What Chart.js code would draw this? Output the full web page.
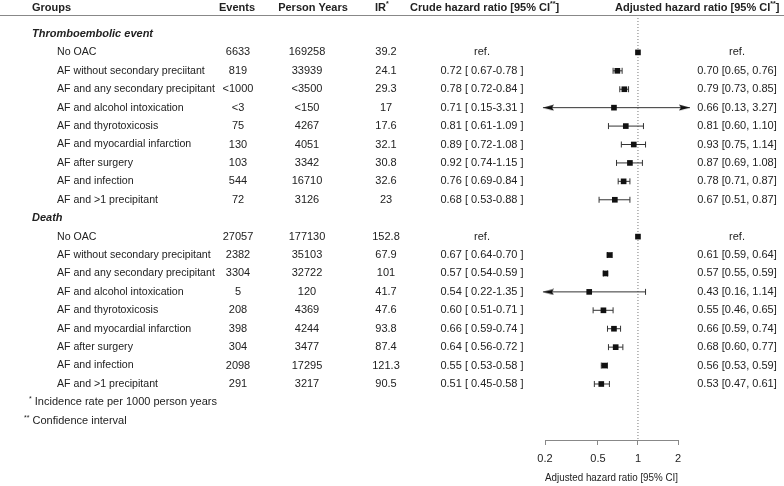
<!DOCTYPE html>
<html>
<head>
<meta charset="utf-8">
<script src="https://cdn.jsdelivr.net/npm/chart.js@4.4.0/dist/chart.umd.min.js"></script>
<style>
	html, body { margin: 0; padding: 0; background: #fff; }
	canvas { display: block; }
</style>
</head>
<body>
<canvas id="forest-chart" width="784" height="486"></canvas>
<script>
// ---- table data ----
var sections = ['Thromboembolic event', 'Death'];

var thromboGroups = ['No OAC', 'AF without secondary preciitant', 'AF and any secondary precipitant', 'AF and alcohol intoxication',
	'AF and thyrotoxicosis', 'AF and myocardial infarction', 'AF after surgery', 'AF and infection', 'AF and >1 precipitant'];
var thromboEvents = ['6633', '819', '<1000', '<3', '75', '130', '103', '544', '72'];
var thromboPersonYears = ['169258', '33939', '<3500', '<150', '4267', '4051', '3342', '16710', '3126'];
var thromboIR = ['39.2', '24.1', '29.3', '17', '17.6', '32.1', '30.8', '32.6', '23'];
var thromboCrudeHR = [null, 0.72, 0.78, 0.71, 0.81, 0.89, 0.92, 0.76, 0.68];
var thromboCrudeLo = [null, 0.67, 0.72, 0.15, 0.61, 0.72, 0.74, 0.69, 0.53];
var thromboCrudeHi = [null, 0.78, 0.84, 3.31, 1.09, 1.08, 1.15, 0.84, 0.88];
var thromboAdjHR = [1, 0.70, 0.79, 0.66, 0.81, 0.93, 0.87, 0.78, 0.67];
var thromboAdjLo = [null, 0.65, 0.73, 0.13, 0.60, 0.75, 0.69, 0.71, 0.51];
var thromboAdjHi = [null, 0.76, 0.85, 3.27, 1.10, 1.14, 1.08, 0.87, 0.87];

var deathGroups = ['No OAC', 'AF without secondary precipitant', 'AF and any secondary precipitant', 'AF and alcohol intoxication',
	'AF and thyrotoxicosis', 'AF and myocardial infarction', 'AF after surgery', 'AF and infection', 'AF and >1 precipitant'];
var deathEvents = ['27057', '2382', '3304', '5', '208', '398', '304', '2098', '291'];
var deathPersonYears = ['177130', '35103', '32722', '120', '4369', '4244', '3477', '17295', '3217'];
var deathIR = ['152.8', '67.9', '101', '41.7', '47.6', '93.8', '87.4', '121.3', '90.5'];
var deathCrudeHR = [null, 0.67, 0.57, 0.54, 0.60, 0.66, 0.64, 0.55, 0.51];
var deathCrudeLo = [null, 0.64, 0.54, 0.22, 0.51, 0.59, 0.56, 0.53, 0.45];
var deathCrudeHi = [null, 0.70, 0.59, 1.35, 0.71, 0.74, 0.72, 0.58, 0.58];
var deathAdjHR = [1, 0.61, 0.57, 0.43, 0.55, 0.66, 0.68, 0.56, 0.53];
var deathAdjLo = [null, 0.59, 0.55, 0.16, 0.46, 0.59, 0.60, 0.53, 0.47];
var deathAdjHi = [null, 0.64, 0.59, 1.14, 0.65, 0.74, 0.77, 0.59, 0.61];

var axisTicks = [0.2, 0.5, 1, 2];
var axisTitle = 'Adjusted hazard ratio [95% CI]';
var footnotes = ['Incidence rate per 1000 person years', 'Confidence interval'];

// ---- layout / style ----
var FONT = '"Liberation Sans", Arial, sans-serif';
var TEXT = '#222';
var INK = '#333';
var axisMin = 0.2, axisMax = 2;     // drawn axis
var arrowLo = 0.193, arrowHi = 2.46; // where clipped CIs end in an arrow
var yTop = -1.03, yBottom = 22.04;   // row index at top / bottom of plot area

// build the row list: heading, 9 rows, heading, 9 rows
var rows = [];
function addSection(title, g, ev, py, ir, cHR, cLo, cHi, aHR, aLo, aHi) {
	rows.push({ heading: title });
	for (var i = 0; i < g.length; i++) {
		rows.push({ group: g[i], events: ev[i], py: py[i], ir: ir[i],
			cHR: cHR[i], cLo: cLo[i], cHi: cHi[i], aHR: aHR[i], aLo: aLo[i], aHi: aHi[i] });
	}
}
addSection(sections[0], thromboGroups, thromboEvents, thromboPersonYears, thromboIR,
	thromboCrudeHR, thromboCrudeLo, thromboCrudeHi, thromboAdjHR, thromboAdjLo, thromboAdjHi);
addSection(sections[1], deathGroups, deathEvents, deathPersonYears, deathIR,
	deathCrudeHR, deathCrudeLo, deathCrudeHi, deathAdjHR, deathAdjLo, deathAdjHi);

var squares = [], ciLines = [], caps = [], leftArrows = [], rightArrows = [];
rows.forEach(function (r, i) {
	if (r.heading) return;
	squares.push({ x: r.aHR, y: i });
	if (r.aLo == null) return;
	var lo = r.aLo, hi = r.aHi;
	if (r.aLo < axisMin) { lo = arrowLo; leftArrows.push({ x: lo, y: i }); } else caps.push({ x: lo, y: i });
	if (r.aHi > axisMax) { hi = arrowHi; rightArrows.push({ x: hi, y: i }); } else caps.push({ x: hi, y: i });
	ciLines.push({ x: lo, y: i }, { x: hi, y: i }, { x: hi, y: null });
});

// arrow head: tip at the centre of the image so the point sits on the tip
function makeArrow() {
	var c = document.createElement('canvas');
	c.width = 22; c.height = 7;
	var g = c.getContext('2d');
	g.fillStyle = '#111';
	g.beginPath();
	g.moveTo(11, 3.5);
	g.lineTo(22, 0.5);
	g.lineTo(20, 3.5);
	g.lineTo(22, 6.5);
	g.closePath();
	g.fill();
	return c;
}
var arrowImg = makeArrow();

function fmtCrude(r) {
	if (r.cHR == null) return 'ref.';
	return r.cHR.toFixed(2) + ' [ ' + r.cLo.toFixed(2) + '-' + r.cHi.toFixed(2) + ' ]';
}
function fmtAdj(r) {
	if (r.aLo == null) return 'ref.';
	return r.aHR.toFixed(2) + ' [' + r.aLo.toFixed(2) + ', ' + r.aHi.toFixed(2) + ']';
}

// text with a small raised part, e.g. IR*
function supText(ctx, parts, x, y, weight) {
	var cx = x;
	parts.forEach(function (p) {
		ctx.font = weight + ' ' + (p.sup ? 7 : 11) + 'px ' + FONT;
		ctx.textAlign = 'left';
		ctx.fillText(p.t, cx, p.sup ? y - 3 : y);
		cx += ctx.measureText(p.t).width;
	});
}

var tablePlugin = {
	id: 'tableText',
	afterDraw: function (chart) {
		var ctx = chart.ctx;
		var yScale = chart.scales.y;
		var top = chart.chartArea.top;
		ctx.save();
		ctx.fillStyle = TEXT;
		ctx.textBaseline = 'middle';

		// header
		var hy = top - 7.5;
		ctx.font = 'bold 11px ' + FONT;
		ctx.textAlign = 'left'; ctx.fillText('Groups', 32, hy);
		ctx.textAlign = 'center'; ctx.fillText('Events', 237, hy);
		ctx.fillText('Person Years', 313, hy);
		supText(ctx, [{ t: 'IR' }, { t: '*', sup: true }], 375, hy, 'bold');
		supText(ctx, [{ t: 'Crude hazard ratio [95% CI' }, { t: '**', sup: true }, { t: ']' }], 410, hy, 'bold');
		supText(ctx, [{ t: 'Adjusted hazard ratio [95% CI' }, { t: '**', sup: true }, { t: ']' }], 615, hy, 'bold');

		ctx.strokeStyle = '#888';
		ctx.lineWidth = 1;
		ctx.beginPath();
		ctx.moveTo(0, top + 0.5);
		ctx.lineTo(chart.width, top + 0.5);
		ctx.stroke();

		rows.forEach(function (r, i) {
			var y = yScale.getPixelForValue(i);
			if (r.heading) {
				ctx.font = 'italic bold 11px ' + FONT;
				ctx.textAlign = 'left';
				ctx.fillText(r.heading, 32, y);
				return;
			}
			ctx.font = '10.6px ' + FONT;
			ctx.textAlign = 'left';
			ctx.fillText(r.group, 57, y);
			ctx.font = '11px ' + FONT;
			ctx.textAlign = 'center';
			ctx.fillText(r.events, 238, y);
			ctx.fillText(r.py, 307, y);
			ctx.fillText(r.ir, 386, y);
			ctx.fillText(fmtCrude(r), 482, y);
			ctx.fillText(fmtAdj(r), 737, y);
		});

		var fy = rows.length;
		supText(ctx, [{ t: '*', sup: true }, { t: ' ' + footnotes[0] }], 29, yScale.getPixelForValue(fy), 'normal');
		supText(ctx, [{ t: '**', sup: true }, { t: ' ' + footnotes[1] }], 24, yScale.getPixelForValue(fy + 1), 'normal');
		ctx.restore();
	}
};

var forestChart = new Chart(document.getElementById('forest-chart'), {
	type: 'scatter',
	data: {
		datasets: [
			{
				label: 'Adjusted HR',
				data: squares,
				pointStyle: 'rect',
				radius: 4,
				backgroundColor: '#111',
				borderColor: '#111',
				borderWidth: 0,
				clip: false
			},
			{
				// radius only widens the "is it in the area" margin, the image keeps its size
				label: 'left arrows',
				data: leftArrows,
				pointStyle: arrowImg,
				radius: 14,
				clip: false
			},
			{
				label: 'right arrows',
				data: rightArrows,
				pointStyle: arrowImg,
				rotation: 180,
				radius: 14,
				clip: false
			},
			{
				label: 'caps',
				data: caps,
				pointStyle: 'line',
				rotation: 90,
				radius: 3,
				borderColor: INK,
				borderWidth: 1,
				clip: false
			},
			{
				label: '95% CI',
				data: ciLines,
				showLine: true,
				spanGaps: false,
				pointRadius: 0,
				borderColor: INK,
				borderWidth: 1,
				clip: false
			},
			{
				label: 'no effect',
				data: [{ x: 1, y: yTop }, { x: 1, y: yBottom }],
				showLine: true,
				pointRadius: 0,
				borderColor: '#777',
				borderWidth: 1,
				borderDash: [1, 2],
				clip: false
			}
		]
	},
	options: {
		responsive: false,
		animation: false,
		devicePixelRatio: 1,
		layout: { padding: { left: 545, right: 106, top: 14, bottom: 0 } },
		plugins: {
			legend: { display: false },
			tooltip: { enabled: false }
		},
		scales: {
			x: {
				type: 'logarithmic',
				position: 'bottom',
				min: axisMin,
				max: axisMax,
				afterBuildTicks: function (scale) {
					scale.ticks = axisTicks.map(function (v) { return { value: v }; });
				},
				afterFit: function (scale) { scale.height = 46; },
				ticks: {
					autoSkip: false,
					maxRotation: 0,
					padding: 7,
					color: TEXT,
					font: { family: FONT, size: 11 },
					callback: function (v) { return String(v); }
				},
				grid: { drawOnChartArea: false, drawTicks: true, tickLength: 5, color: '#888' },
				border: { display: true, color: '#888' },
				title: {
					display: true,
					text: axisTitle,
					color: TEXT,
					font: { family: FONT, size: 11 },
					padding: { top: 0, bottom: 1 }
				}
			},
			y: {
				type: 'linear',
				display: false,
				reverse: true,
				min: yTop,
				max: yBottom
			}
		}
	},
	plugins: [tablePlugin]
});
</script>
</body>
</html>
